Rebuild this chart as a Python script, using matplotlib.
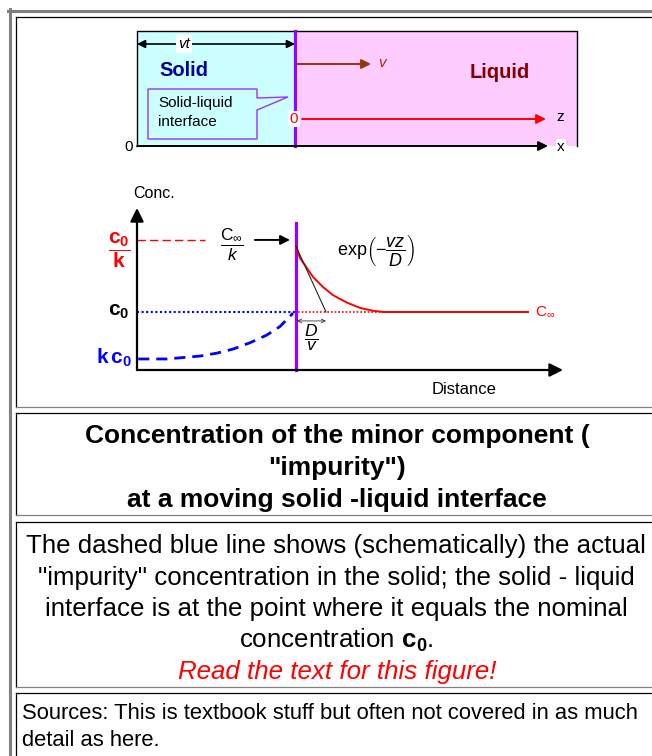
import matplotlib.pyplot as plt
from matplotlib.patches import Rectangle, Polygon

plt.rcParams['font.family'] = ['Liberation Sans', 'DejaVu Sans']
plt.rcParams['mathtext.fontset'] = 'custom'
plt.rcParams['mathtext.rm'] = 'Liberation Sans'
plt.rcParams['mathtext.it'] = 'Liberation Sans:italic'
plt.rcParams['mathtext.bf'] = 'Liberation Sans:bold'

# concentration profile: z in units of D/v (interface at 0), conc in units of c0
liquid_z = [0, 0.13, 0.36, 0.57, 0.9, 1.23, 1.7, 2.13, 2.57, 2.9]
liquid_c = [2.13, 1.93, 1.76, 1.60, 1.43, 1.29, 1.16, 1.07, 1.02, 1.0]
plateau_z = [2.9, 7.73]
plateau_c = [1.0, 1.0]
solid_z = [-5.26, -4.31, -3.2, -2.64, -2.1, -1.53, -0.98, -0.53, -0.1]
solid_c = [0.19, 0.19, 0.24, 0.29, 0.36, 0.47, 0.60, 0.75, 0.98]
tangent_z = [0, 1.0]
tangent_c = [2.13, 1.0]
c0_over_k = 2.24
c0 = 1.0
kc0 = 0.19
z_min, z_max = -5.3, 8.9
c_max = 2.79
interface_top = 2.53

RED = '#ff0000'
BLUE = '#0000ff'
PURPLE = '#9900ff'

fig = plt.figure(figsize=(6.52, 7.56), dpi=100)
ax = fig.add_axes([0, 0, 1, 1])
ax.set_xlim(0, 652)
ax.set_ylim(756, 0)
ax.axis('off')

# page / table borders
ax.plot([8, 652], [10.5, 10.5], color='#808080', lw=2.2)
ax.plot([9.5, 9.5], [9, 756], color='#808080', lw=2.2)
cells = [(17, 407), (413, 515), (522, 687), (693, 760)]
for top, bot in cells:
    ax.plot([16, 652], [top, top], color='black', lw=0.9)
    ax.plot([16, 16], [top, bot], color='black', lw=0.9)
    ax.plot([16, 652], [bot, bot], color='#808080', lw=0.9)

# ---- top schematic: moving interface ----
ax.add_patch(Rectangle((137, 31), 158, 115, facecolor='#ccffff', edgecolor='none'))
ax.add_patch(Rectangle((295, 31), 282, 115, facecolor='#ffccff', edgecolor='none'))
ax.plot([137, 137, 577, 577], [146, 31, 31, 146], color='black', lw=1)
ax.plot([295, 295], [31, 146], color=PURPLE, lw=2.3)

arrow = dict(arrowstyle='-|>', color='black', lw=1.4, mutation_scale=14, shrinkA=0, shrinkB=0)
ax.annotate('', xy=(548, 146), xytext=(137, 146), arrowprops=arrow)
ax.text(133, 147, '0', ha='right', va='center', fontsize=11)
ax.text(561, 147, 'x', ha='center', va='center', fontsize=11,
        bbox=dict(facecolor='white', edgecolor='none', pad=1))

ax.annotate('', xy=(295, 44), xytext=(137, 44),
            arrowprops=dict(arrowstyle='<|-|>', color='black', lw=1.2,
                            mutation_scale=12, shrinkA=0, shrinkB=0))
ax.text(184, 44, 'vt', ha='center', va='center', fontsize=11, style='italic',
        bbox=dict(facecolor='white', edgecolor='none', pad=1.5))

ax.annotate('', xy=(371, 64), xytext=(296, 64),
            arrowprops=dict(arrowstyle='-|>', color='#993300', lw=1.4,
                            mutation_scale=14, shrinkA=0, shrinkB=0))
ax.text(382, 63, 'v', ha='center', va='center', fontsize=11, style='italic', color='#993300')

ax.text(159, 71, 'Solid', ha='left', va='center', fontsize=14.5, fontweight='bold', color='#000099')
ax.text(470, 72, 'Liquid', ha='left', va='center', fontsize=14.5, fontweight='bold', color='#800000')

ax.add_patch(Polygon([(148, 89), (257, 89), (257, 98), (288, 97), (257, 110),
                      (257, 139), (148, 139)], closed=True,
                     facecolor='#ccffff', edgecolor='#9933ff', lw=1))
ax.text(158, 103, 'Solid-liquid', ha='left', va='center', fontsize=11)
ax.text(158, 122, 'interface', ha='left', va='center', fontsize=11)

ax.annotate('', xy=(546, 119), xytext=(302, 119),
            arrowprops=dict(arrowstyle='-|>', color=RED, lw=1.4,
                            mutation_scale=14, shrinkA=0, shrinkB=0))
ax.text(294, 119, '0', ha='center', va='center', fontsize=11, color=RED,
        bbox=dict(facecolor='white', edgecolor='none', pad=1))
ax.text(560, 117, 'z', ha='center', va='center', fontsize=11)

# ---- concentration profile ----
ax2 = fig.add_axes([137 / 652, (756 - 370) / 756, (563 - 137) / 652, (370 - 208) / 756])
ax2.set_xlim(z_min, z_max)
ax2.set_ylim(0, c_max)
ax2.axis('off')

ax2.annotate('', xy=(1, 0), xytext=(0, 0), xycoords='axes fraction',
             arrowprops=dict(arrowstyle='-|>', color='black', lw=1.6,
                             mutation_scale=20, shrinkA=0, shrinkB=0))
ax2.annotate('', xy=(0, 1), xytext=(0, 0), xycoords='axes fraction',
             arrowprops=dict(arrowstyle='-|>', color='black', lw=1.6,
                             mutation_scale=20, shrinkA=0, shrinkB=0))

ax2.plot([0, 0], [0, interface_top], color=PURPLE, lw=2.3, clip_on=False)
ax2.plot([z_min, -3.03], [c0_over_k, c0_over_k], color=RED, lw=1, dashes=(6, 3), clip_on=False)
ax2.annotate('', xy=(-0.2, c0_over_k), xytext=(-1.37, c0_over_k),
             arrowprops=dict(arrowstyle='-|>', color='black', lw=1.4,
                             mutation_scale=14, shrinkA=0, shrinkB=0))
ax2.text(-2.13, 2.15, r'$\dfrac{\mathrm{C}_{\infty}}{k}$', ha='center', va='center', fontsize=12.5)

ax2.plot([z_min, -0.05], [c0, c0], color=BLUE, lw=1.5, dashes=(1, 1.2), clip_on=False)
ax2.plot([0.05, plateau_z[0]], [c0, c0], color=RED, lw=1.2, dashes=(1, 1.2), clip_on=False)
ax2.plot(solid_z, solid_c, color=BLUE, lw=2, dashes=(4, 2.5), clip_on=False)
ax2.plot(liquid_z, liquid_c, color=RED, lw=1.4, clip_on=False)
ax2.plot(plateau_z, plateau_c, color=RED, lw=1.4, clip_on=False)
ax2.plot(tangent_z, tangent_c, color='#222222', lw=0.8, clip_on=False)
ax2.annotate('', xy=(1.0, 0.845), xytext=(0.03, 0.845),
             arrowprops=dict(arrowstyle='<->', color='#333333', lw=0.6,
                             mutation_scale=7, shrinkA=0, shrinkB=0))
ax2.text(0.5, 0.55, r'$\dfrac{D}{v}$', ha='center', va='center', fontsize=12.5)
ax2.text(2.65, 2.07, r'$\mathrm{exp}\left(-\dfrac{vz}{D}\right)$', ha='center', va='center', fontsize=13)
ax2.text(7.97, c0, r'$\mathrm{C}_{\infty}$', ha='left', va='center', fontsize=11, color=RED)

ax2.annotate(r'$\mathbf{\dfrac{c_0}{k}}$', xy=(z_min, c0_over_k), xytext=(-13, -7),
             textcoords='offset points', ha='center', va='center', fontsize=15, color=RED)
ax2.annotate(r'$\mathbf{c_0}$', xy=(z_min, c0), xytext=(-13, 0),
             textcoords='offset points', ha='center', va='center', fontsize=15, color='black')
ax2.annotate(r'$\mathbf{k\,c_0}$', xy=(z_min, kc0), xytext=(-4, 1),
             textcoords='offset points', ha='right', va='center', fontsize=15, color=BLUE)

ax.text(133, 194, 'Conc.', ha='left', va='center', fontsize=11.5)
ax.text(432, 389, 'Distance', ha='left', va='center', fontsize=12)

# ---- caption cells ----
title_lines = ['Concentration of the minor component (', '"impurity")',
               'at a moving solid -liquid interface']
for i, line in enumerate(title_lines):
    ax.text(337, 443 + 32 * i, line, ha='center', va='baseline', fontsize=19, fontweight='bold')

desc_lines = ['The dashed blue line shows (schematically) the actual',
              '"impurity" concentration in the solid; the solid - liquid',
              'interface is at the point where it equals the nominal',
              r'concentration $\mathbf{c_0}$.']
for i, line in enumerate(desc_lines):
    ax.text(336, 553 + 31.5 * i, line, ha='center', va='baseline', fontsize=18.6)
ax.text(337, 679, 'Read the text for this figure!', ha='center', va='baseline',
        fontsize=18.6, style='italic', color=RED)

ax.text(22, 719, 'Sources: This is textbook stuff but often not covered in as much',
        ha='left', va='baseline', fontsize=15.8)
ax.text(22, 746, 'detail as here.', ha='left', va='baseline', fontsize=15.8)

fig.savefig('out.png', dpi=100)
